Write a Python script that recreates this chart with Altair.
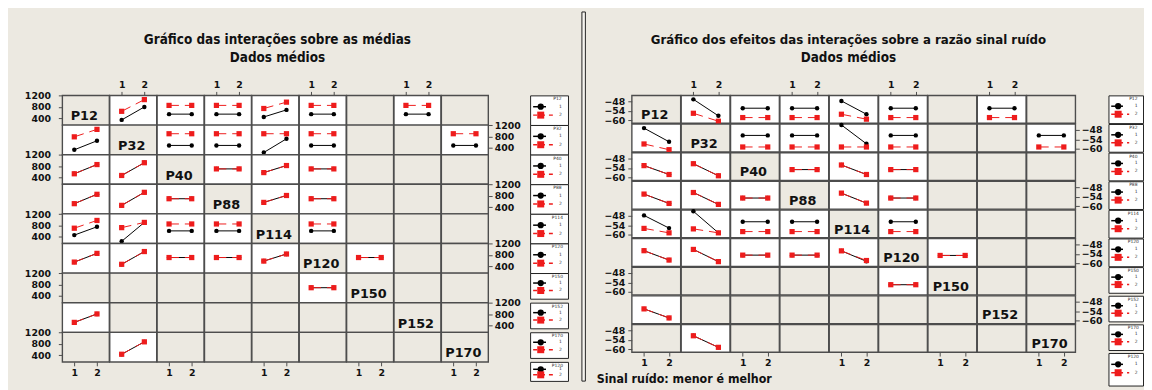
import altair as alt
import pandas as pd

# ---------------- data ----------------
FACTORS = ["P12", "P32", "P40", "P88", "P114", "P120", "P150", "P152", "P170"]
LEGEND_TITLES = ["P12", "P32", "P40", "P88", "P114", "P120", "P150", "P152", "P170", "P120"]
LEVELS = [1, 2]
LEVEL_LABELS = ["1", "2"]

# L = factor label (diagonal), D = interaction plotted, . = no data
CELL_PATTERN = [
    "LDDDDD.D.",
    "DLDDDD..D",
    "DDLDDD...",
    "DDDLDD...",
    "DDDDLD...",
    "DDDDDLD..",
    ".....DL..",
    "D......L.",
    ".D......L",
]

TITLE_LEFT = "Gráfico das interações sobre as médias"
TITLE_RIGHT = "Gráfico dos efeitos das interações sobre a razão sinal ruído"
SUBTITLE = "Dados médios"
FOOTER_RIGHT = "Sinal ruído: menor é melhor"

MEAN_TICKS = [400, 800, 1200]
SN_TICKS = [-60, -54, -48]

# (column, level1 @x=1, level1 @x=2, level2 @x=1, level2 @x=2)
MEANS_P12 = [(1, 340, 800, 645, 1060), (2, 545, 545, 855, 855), (3, 545, 545, 855, 855),
             (4, 445, 695, 745, 970), (5, 545, 545, 855, 855), (7, 545, 545, 855, 855)]
MEANS_P32 = [(0, 330, 650, 790, 1055), (2, 485, 485, 900, 900), (3, 485, 485, 900, 900),
             (4, 235, 720, 900, 900), (5, 485, 485, 900, 900), (8, 485, 485, 900, 900)]
MEANS_P40 = [(0, 530, 857, 530, 857), (1, 470, 922, 470, 922), (3, 703, 703, 703, 703),
             (4, 572, 822, 572, 822), (5, 703, 703, 703, 703)]
MEANS_P88 = [(0, 520, 852, 520, 852), (1, 460, 922, 460, 922), (2, 695, 695, 695, 695),
             (4, 565, 810, 565, 810), (5, 695, 695, 695, 695)]
MEANS_P114 = [(0, 455, 750, 700, 975), (1, 235, 905, 720, 905), (2, 605, 605, 850, 850),
              (3, 605, 605, 850, 850), (5, 605, 605, 850, 850)]
MEANS_P120 = [(0, 548, 857, 548, 857), (1, 470, 922, 470, 922), (2, 710, 710, 710, 710),
              (3, 710, 710, 710, 710), (4, 584, 835, 584, 835), (6, 710, 710, 710, 710)]
MEANS_P150 = [(5, 690, 690, 690, 690)]
MEANS_P152 = [(0, 510, 810, 510, 810)]
MEANS_P170 = [(1, 430, 870, 430, 870)]

SN_P12 = [(1, -46.8, -57.2, -55.6, -60.6), (2, -52.4, -52.4, -58.3, -58.3), (3, -52.4, -52.4, -58.3, -58.3),
          (4, -47.8, -56.2, -56.2, -59.3), (5, -52.4, -52.4, -58.3, -58.3), (7, -52.4, -52.4, -58.3, -58.3)]
SN_P32 = [(0, -46.9, -55.5, -56.9, -60.5), (2, -51.5, -51.5, -58.8, -58.8), (3, -51.5, -51.5, -58.8, -58.8),
          (4, -44.9, -56.8, -58.8, -58.8), (5, -51.5, -51.5, -58.8, -58.8), (8, -51.5, -51.5, -58.8, -58.8)]
SN_P40 = [(0, -52.5, -58.1, -52.5, -58.1), (1, -51.3, -58.9, -51.3, -58.9), (3, -55.0, -55.0, -55.0, -55.0),
          (4, -52.1, -58.1, -52.1, -58.1), (5, -55.0, -55.0, -55.0, -55.0)]
SN_P88 = [(0, -52.4, -58.3, -52.4, -58.3), (1, -51.4, -58.9, -51.4, -58.9), (2, -54.9, -54.9, -54.9, -54.9),
          (4, -51.8, -58.1, -51.8, -58.1), (5, -54.9, -54.9, -54.9, -54.9)]
SN_P114 = [(0, -47.8, -55.8, -56.0, -58.8), (1, -45.2, -58.8, -56.3, -58.8), (2, -51.8, -51.8, -58.0, -58.0),
           (3, -51.8, -51.8, -58.0, -58.0), (5, -51.8, -51.8, -58.0, -58.0)]
SN_P120 = [(0, -52.0, -57.9, -52.0, -57.9), (1, -51.2, -58.9, -51.2, -58.9), (2, -54.8, -54.8, -54.8, -54.8),
           (3, -54.8, -54.8, -54.8, -54.8), (4, -52.1, -58.7, -52.1, -58.2), (6, -55.0, -55.0, -55.0, -55.0)]
SN_P150 = [(5, -55.4, -55.4, -55.4, -55.4)]
SN_P152 = [(0, -52.6, -58.3, -52.6, -58.3)]
SN_P170 = [(1, -51.5, -58.8, -51.5, -58.8)]

MEANS_ROWS = [MEANS_P12, MEANS_P32, MEANS_P40, MEANS_P88, MEANS_P114, MEANS_P120, MEANS_P150, MEANS_P152, MEANS_P170]
SN_ROWS = [SN_P12, SN_P32, SN_P40, SN_P88, SN_P114, SN_P120, SN_P150, SN_P152, SN_P170]

# ---------------- style ----------------
FONT = "DejaVu Sans"
TITLE_FONT = "DejaVu Sans Condensed, DejaVu Sans"
BEIGE = "#ECE9E1"
GRID = "#4d4d4d"
RED = "#EE1C1C"
INK = "#111111"


def to_frame(rows):
    recs = []
    for r, lst in enumerate(rows):
        for (c, a1, a2, b1, b2) in lst:
            recs.append(dict(row=r, col=c, lvl=1, x=LEVELS[0], y=a1))
            recs.append(dict(row=r, col=c, lvl=1, x=LEVELS[1], y=a2))
            recs.append(dict(row=r, col=c, lvl=2, x=LEVELS[0], y=b1))
            recs.append(dict(row=r, col=c, lvl=2, x=LEVELS[1], y=b2))
    return pd.DataFrame(recs)


def axis(orient, values, pad):
    return alt.Axis(orient=orient, values=values, format="d", title=None, grid=False, domain=False,
                    ticks=True, tickSize=4, tickColor=GRID, tickWidth=1,
                    labelFont=FONT, labelFontSize=9.5, labelFontWeight="bold", labelColor=INK,
                    labelPadding=pad, labelFlush=False, labelOverlap=False)


def spacer(w, h, fill="transparent", stroke="transparent", sw=0):
    return alt.Chart(pd.DataFrame({"t": [""]})).mark_text().encode(text="t:N").properties(
        width=w, height=h, view=alt.ViewBackground(fill=fill, stroke=stroke, strokeWidth=sw))


def text_block(w, h, items):
    layers = []
    for (txt, x, y, size, align) in items:
        layers.append(
            alt.Chart(pd.DataFrame({"t": [txt]})).mark_text(
                font=TITLE_FONT, fontSize=size, fontWeight="bold", color=INK, align=align, baseline="middle"
            ).encode(x=alt.value(x), y=alt.value(y), text="t:N")
        )
    return alt.layer(*layers).properties(
        width=w, height=h, view=alt.ViewBackground(fill="transparent", stroke="transparent", strokeWidth=0))


def make_cell(df, r, c, P):
    W, H = P["cw"], P["ch"]
    kind = CELL_PATTERN[r][c]
    sub = df[(df["row"] == r) & (df["col"] == c)]
    xax = None
    yax = None
    if r == 0 and c % 2 == 1:
        xax = axis("top", LEVELS, 2)
    elif r == 8 and c % 2 == 0:
        xax = axis("bottom", LEVELS, 2)
    if c == 0 and r % 2 == 0:
        yax = axis("left", P["yticks"], P["lpad"])
    elif c == 8 and r % 2 == 1:
        yax = axis("right", P["yticks"], 2)
    xenc = alt.X("x:Q", scale=alt.Scale(domain=P["xdom"], nice=False, zero=False), axis=xax)
    yenc = alt.Y("y:Q", scale=alt.Scale(domain=P["ydom"], nice=False, zero=False), axis=yax)
    s1 = sub[sub["lvl"] == 1][["x", "y"]].reset_index(drop=True)
    s2 = sub[sub["lvl"] == 2][["x", "y"]].reset_index(drop=True)
    layers = [
        alt.Chart(s1).mark_line(color="black", strokeWidth=1).encode(x=xenc, y=yenc),
        alt.Chart(s1).mark_point(shape="circle", filled=True, color="black", size=20, opacity=1).encode(x=xenc, y=yenc),
        alt.Chart(s2).mark_line(color=RED, strokeWidth=1, strokeDash=[10, 6]).encode(x=xenc, y=yenc),
        alt.Chart(s2).mark_point(shape="square", filled=True, color=RED, size=28, opacity=1).encode(x=xenc, y=yenc),
    ]
    if kind == "L":
        layers.append(
            alt.Chart(pd.DataFrame({"t": [FACTORS[r]]})).mark_text(
                font=FONT, fontSize=13, fontWeight="bold", color=INK, align="center", baseline="middle"
            ).encode(x=alt.value(W * 0.47), y=alt.value(H * 0.71), text="t:N")
        )
    fill = "white" if kind == "D" else BEIGE
    return alt.layer(*layers).properties(
        width=W, height=H, view=alt.ViewBackground(fill=fill, stroke=GRID, strokeWidth=1.4))


def legend_box(name, W, H):
    one = pd.DataFrame({"t": [name]})
    l1 = pd.DataFrame({"t": [LEVEL_LABELS[0]]})
    l2 = pd.DataFrame({"t": [LEVEL_LABELS[1]]})
    yb = min(H * 0.39, 11.5)
    yr = min(H * 0.68, 20)
    layers = [
        alt.Chart(one).mark_text(font=FONT, fontSize=4.5, color="#333", align="center", baseline="middle")
        .encode(x=alt.value(W * 0.72), y=alt.value(4), text="t:N"),
        alt.Chart(one).mark_rule(color="black", strokeWidth=1.5)
        .encode(x=alt.value(W * 0.08), x2=alt.value(W * 0.42), y=alt.value(yb)),
        alt.Chart(one).mark_point(shape="circle", filled=True, color="black", size=40, opacity=1)
        .encode(x=alt.value(W * 0.28), y=alt.value(yb)),
        alt.Chart(one).mark_rule(color=RED, strokeWidth=1.5, strokeDash=[4, 4])
        .encode(x=alt.value(W * 0.08), x2=alt.value(W * 0.6), y=alt.value(yr)),
        alt.Chart(one).mark_point(shape="square", filled=True, color=RED, size=50, opacity=1)
        .encode(x=alt.value(W * 0.28), y=alt.value(yr)),
        alt.Chart(l1).mark_text(font=FONT, fontSize=4.5, color="#333", align="center", baseline="middle")
        .encode(x=alt.value(W * 0.8), y=alt.value(yb), text="t:N"),
        alt.Chart(l2).mark_text(font=FONT, fontSize=4.5, color="#333", align="center", baseline="middle")
        .encode(x=alt.value(W * 0.8), y=alt.value(yr), text="t:N"),
    ]
    return alt.layer(*layers).properties(
        width=W, height=H, view=alt.ViewBackground(fill="white", stroke="#222", strokeWidth=1))


def build_panel(df, P):
    """One flat table: title row, 9 matrix rows, one bottom row.
    Columns: left gap, 9 matrix columns, gap, legend column."""
    widths = [P["lgap"]] + [P["cw"]] * 9 + [P["rgap"], P["legw"]]
    items = []
    for j, w in enumerate(widths):
        if j == 0:
            items.append(text_block(w, P["top"], P["title_items"]))
        else:
            items.append(spacer(w, P["top"]))
    for r in range(9):
        items.append(spacer(widths[0], P["ch"]))
        for c in range(9):
            items.append(make_cell(df, r, c, P))
        items.append(spacer(widths[10], P["ch"]))
        items.append(legend_box(LEGEND_TITLES[r], P["legw"], P["leg_h"][r]))
    for j, w in enumerate(widths):
        if j == 11:
            items.append(legend_box(LEGEND_TITLES[9], P["legw"], P["leg_h"][9]))
        elif j == 0 and P["footer_items"]:
            items.append(text_block(w, P["bottom"], P["footer_items"]))
        else:
            items.append(spacer(w, P["bottom"]))
    return alt.concat(*items, columns=12, spacing=0, bounds="flush", align="each")


TOP_H = 84.7

PL = dict(cw=428 / 9, ch=30, xdom=[0.47, 2.54], ydom=[160, 1210], yticks=MEAN_TICKS, lpad=8,
          lgap=54.7, rgap=41.6, legw=38.4, top=TOP_H, bottom=19.3,
          leg_h=[30] * 6 + [26] * 3 + [19.3],
          title_items=[(TITLE_LEFT, 273, 29, 13.6, "center"), (SUBTITLE, 273, 47, 13.6, "center")],
          footer_items=[])

PR = dict(cw=445 / 9, ch=28.1, xdom=[0.51, 2.46], ydom=[-61.8, -44.3], yticks=SN_TICKS, lpad=3,
          lgap=46.2, rgap=32.6, legw=35, top=TOP_H, bottom=36.4,
          leg_h=[28.1] * 6 + [26] * 3 + [33],
          title_items=[(TITLE_RIGHT, 266.5, 29, 13.3, "center"), (SUBTITLE, 266.5, 47, 13.6, "center")],
          footer_items=[(FOOTER_RIGHT, 11.5, 26.5, 12.5, "left")])

left_panel = build_panel(to_frame(MEANS_ROWS), PL)
right_panel = build_panel(to_frame(SN_ROWS), PR)

separator = spacer(3.5, 374, fill="#F6F4EF", stroke="#222222", sw=1)

chart = alt.hconcat(left_panel, spacer(11.3, 374), separator, right_panel,
                    spacing=0).properties(background=BEIGE, padding=0)

chart.save("out.html", embed_options={"renderer": "svg", "actions": False})
